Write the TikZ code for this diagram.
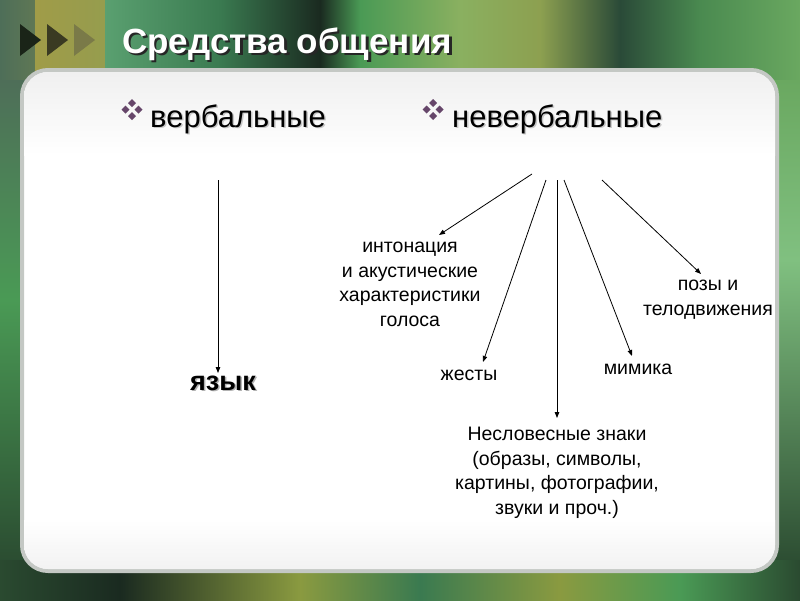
\documentclass[tikz,border=0pt]{standalone}
\usepackage{fontspec}
\setmainfont{Liberation Sans}
\usetikzlibrary{arrows.meta}
\definecolor{bgA}{HTML}{24402C}
\definecolor{panelEdge}{HTML}{C4C8C4}
\definecolor{bulletC}{HTML}{66466A}
\definecolor{cA}{HTML}{4E6E58}
\definecolor{cB}{HTML}{A09C48}
\definecolor{cC}{HTML}{5AA070}
\definecolor{cD}{HTML}{3A7A50}
\definecolor{cE}{HTML}{1A2A20}
\definecolor{cF}{HTML}{4A9A55}
\definecolor{cG}{HTML}{8AB060}
\definecolor{cH}{HTML}{B0B050}
\definecolor{cI}{HTML}{2A4A38}
\definecolor{cJ}{HTML}{4A8A50}
\definecolor{cK}{HTML}{6AA860}
\definecolor{cL}{HTML}{80C080}
\definecolor{cM}{HTML}{2A4A30}
\definecolor{cN}{HTML}{8A9A40}
\definecolor{triA}{HTML}{1A2418}
\definecolor{triB}{HTML}{3A3A22}
\definecolor{triC}{HTML}{7A7A48}
\newcommand{\shadowtext}[3]{\makebox[0pt][l]{\hspace{#1}\raisebox{-#1}{\color{#2}#3}}#3}
\tikzset{
  conn/.style={draw=black, line width=0.8pt, -{Triangle[length=6pt,width=4.5pt]}},
  bodytext/.style={font=\fontsize{19.5}{24.5}\selectfont, align=center, text=black, inner sep=0pt},
  headtext/.style={font=\fontsize{31}{36}\selectfont, text=black, inner sep=0pt, anchor=base west},
  titletext/.style={font=\fontsize{35}{40}\selectfont\bfseries, inner sep=0pt, anchor=base west},
  langtext/.style={font=\fontsize{27}{31}\selectfont\bfseries, text=black, inner sep=0pt, anchor=base west},
  diam/.style={fill=bulletC, draw=none},
  tri/.style={draw=none}
}
\begin{document}
\begin{tikzpicture}[x=1pt,y=-1pt]
\useasboundingbox (0,0) rectangle (800,600);
% ---------- background ----------
\fill[bgA] (0,0) rectangle (800,600);
% top band
\shade[left color=cA, right color=cA!80!cB] (0,0) rectangle (35,80);
\shade[left color=cB, right color=cB!85!cC] (35,0) rectangle (105,80);
\shade[left color=cC, right color=cD] (105,0) rectangle (220,80);
\shade[left color=cD, right color=cE] (220,0) rectangle (320,80);
\shade[left color=cE, right color=cF] (320,0) rectangle (360,80);
\shade[left color=cF, right color=cG] (360,0) rectangle (460,80);
\shade[left color=cG, right color=cH!70!cD] (460,0) rectangle (540,80);
\shade[left color=cH!70!cD, right color=cI] (540,0) rectangle (620,80);
\shade[left color=cI, right color=cJ] (620,0) rectangle (700,80);
\shade[left color=cJ, right color=cK] (700,0) rectangle (800,80);
% sides
\shade[top color=cA, bottom color=cF] (0,80) rectangle (30,300);
\shade[top color=cF, bottom color=cM] (0,300) rectangle (30,570);
\shade[top color=cK, bottom color=cL] (770,80) rectangle (800,260);
\shade[top color=cL, bottom color=cM] (770,260) rectangle (800,570);
% bottom band
\shade[left color=cM, right color=cE] (0,560) rectangle (120,600);
\shade[left color=cE, right color=cN] (120,560) rectangle (300,600);
\shade[left color=cN, right color=cD] (300,560) rectangle (420,600);
\shade[left color=cD, right color=cN] (420,560) rectangle (560,600);
\shade[left color=cN, right color=cF] (560,560) rectangle (680,600);
\shade[left color=cF, right color=cM] (680,560) rectangle (800,600);
% ---------- panel ----------
\draw[line width=4pt, draw=panelEdge, fill=white, rounded corners=26pt] (22,70) rectangle (777,571);
\begin{scope}
  \clip[rounded corners=24pt] (24,72) rectangle (775,569);
  \shade[top color=black!6, bottom color=white] (24,72) rectangle (775,155);
  \shade[top color=white, bottom color=black!5] (24,520) rectangle (775,569);
\end{scope}
% ---------- title ----------
\fill[tri, triA] (20,24) -- (41,40) -- (20,56) -- cycle;
\fill[tri, triB] (47,24) -- (68,40) -- (47,56) -- cycle;
\fill[tri, triC] (74,24) -- (95,40) -- (74,56) -- cycle;
\node[titletext, text=white] (title) at (122,53) {\shadowtext{2.5pt}{black!85}{Средства общения}};
% ---------- headings ----------
\foreach \cx in {132, 433}{
  \fill[diam] (\cx,99) -- (\cx+4,103) -- (\cx,107) -- (\cx-4,103) -- cycle;
  \fill[diam] (\cx,112) -- (\cx+4,116) -- (\cx,120) -- (\cx-4,116) -- cycle;
  \fill[diam] (\cx-6.5,105.5) -- (\cx-2.5,109.5) -- (\cx-6.5,113.5) -- (\cx-10.5,109.5) -- cycle;
  \fill[diam] (\cx+6.5,105.5) -- (\cx+10.5,109.5) -- (\cx+6.5,113.5) -- (\cx+2.5,109.5) -- cycle;
}
\node[headtext] (verb) at (150,127) {\shadowtext{1.5pt}{black!22}{вербальные}};
\node[headtext] (nonverb) at (452,127) {\shadowtext{1.5pt}{black!22}{невербальные}};
% ---------- leaf texts ----------
\node[langtext] (lang) at (190,390) {\shadowtext{1.5pt}{black!30}{язык}};
\node[bodytext, anchor=base] (inton) at (410,326) {интонация\\и акустические\\характеристики\\голоса};
\node[bodytext, anchor=base] (gest) at (469,380) {жесты};
\node[bodytext, anchor=base] (mimic) at (638,374) {мимика};
\node[bodytext, anchor=base] (pose) at (708,315) {позы и\\телодвижения};
\node[bodytext, anchor=base] (signs) at (557,514) {Несловесные знаки\\(образы, символы,\\картины, фотографии,\\звуки и проч.)};
% ---------- connectors ----------
\coordinate (vs) at (218,180);
\coordinate (ve) at (218,373);
\coordinate (s1) at (532,174);
\coordinate (e1) at (439,235);
\coordinate (s2) at (546,180);
\coordinate (e2) at (483,362);
\coordinate (s3) at (557,180);
\coordinate (e3) at (557,418);
\coordinate (s4) at (564,180);
\coordinate (e4) at (632,356);
\coordinate (s5) at (602,180);
\coordinate (e5) at (701,274);
\draw[conn] (vs) -- (ve);
\draw[conn] (s1) -- (e1);
\draw[conn] (s2) -- (e2);
\draw[conn] (s3) -- (e3);
\draw[conn] (s4) -- (e4);
\draw[conn] (s5) -- (e5);
\end{tikzpicture}
\end{document}
